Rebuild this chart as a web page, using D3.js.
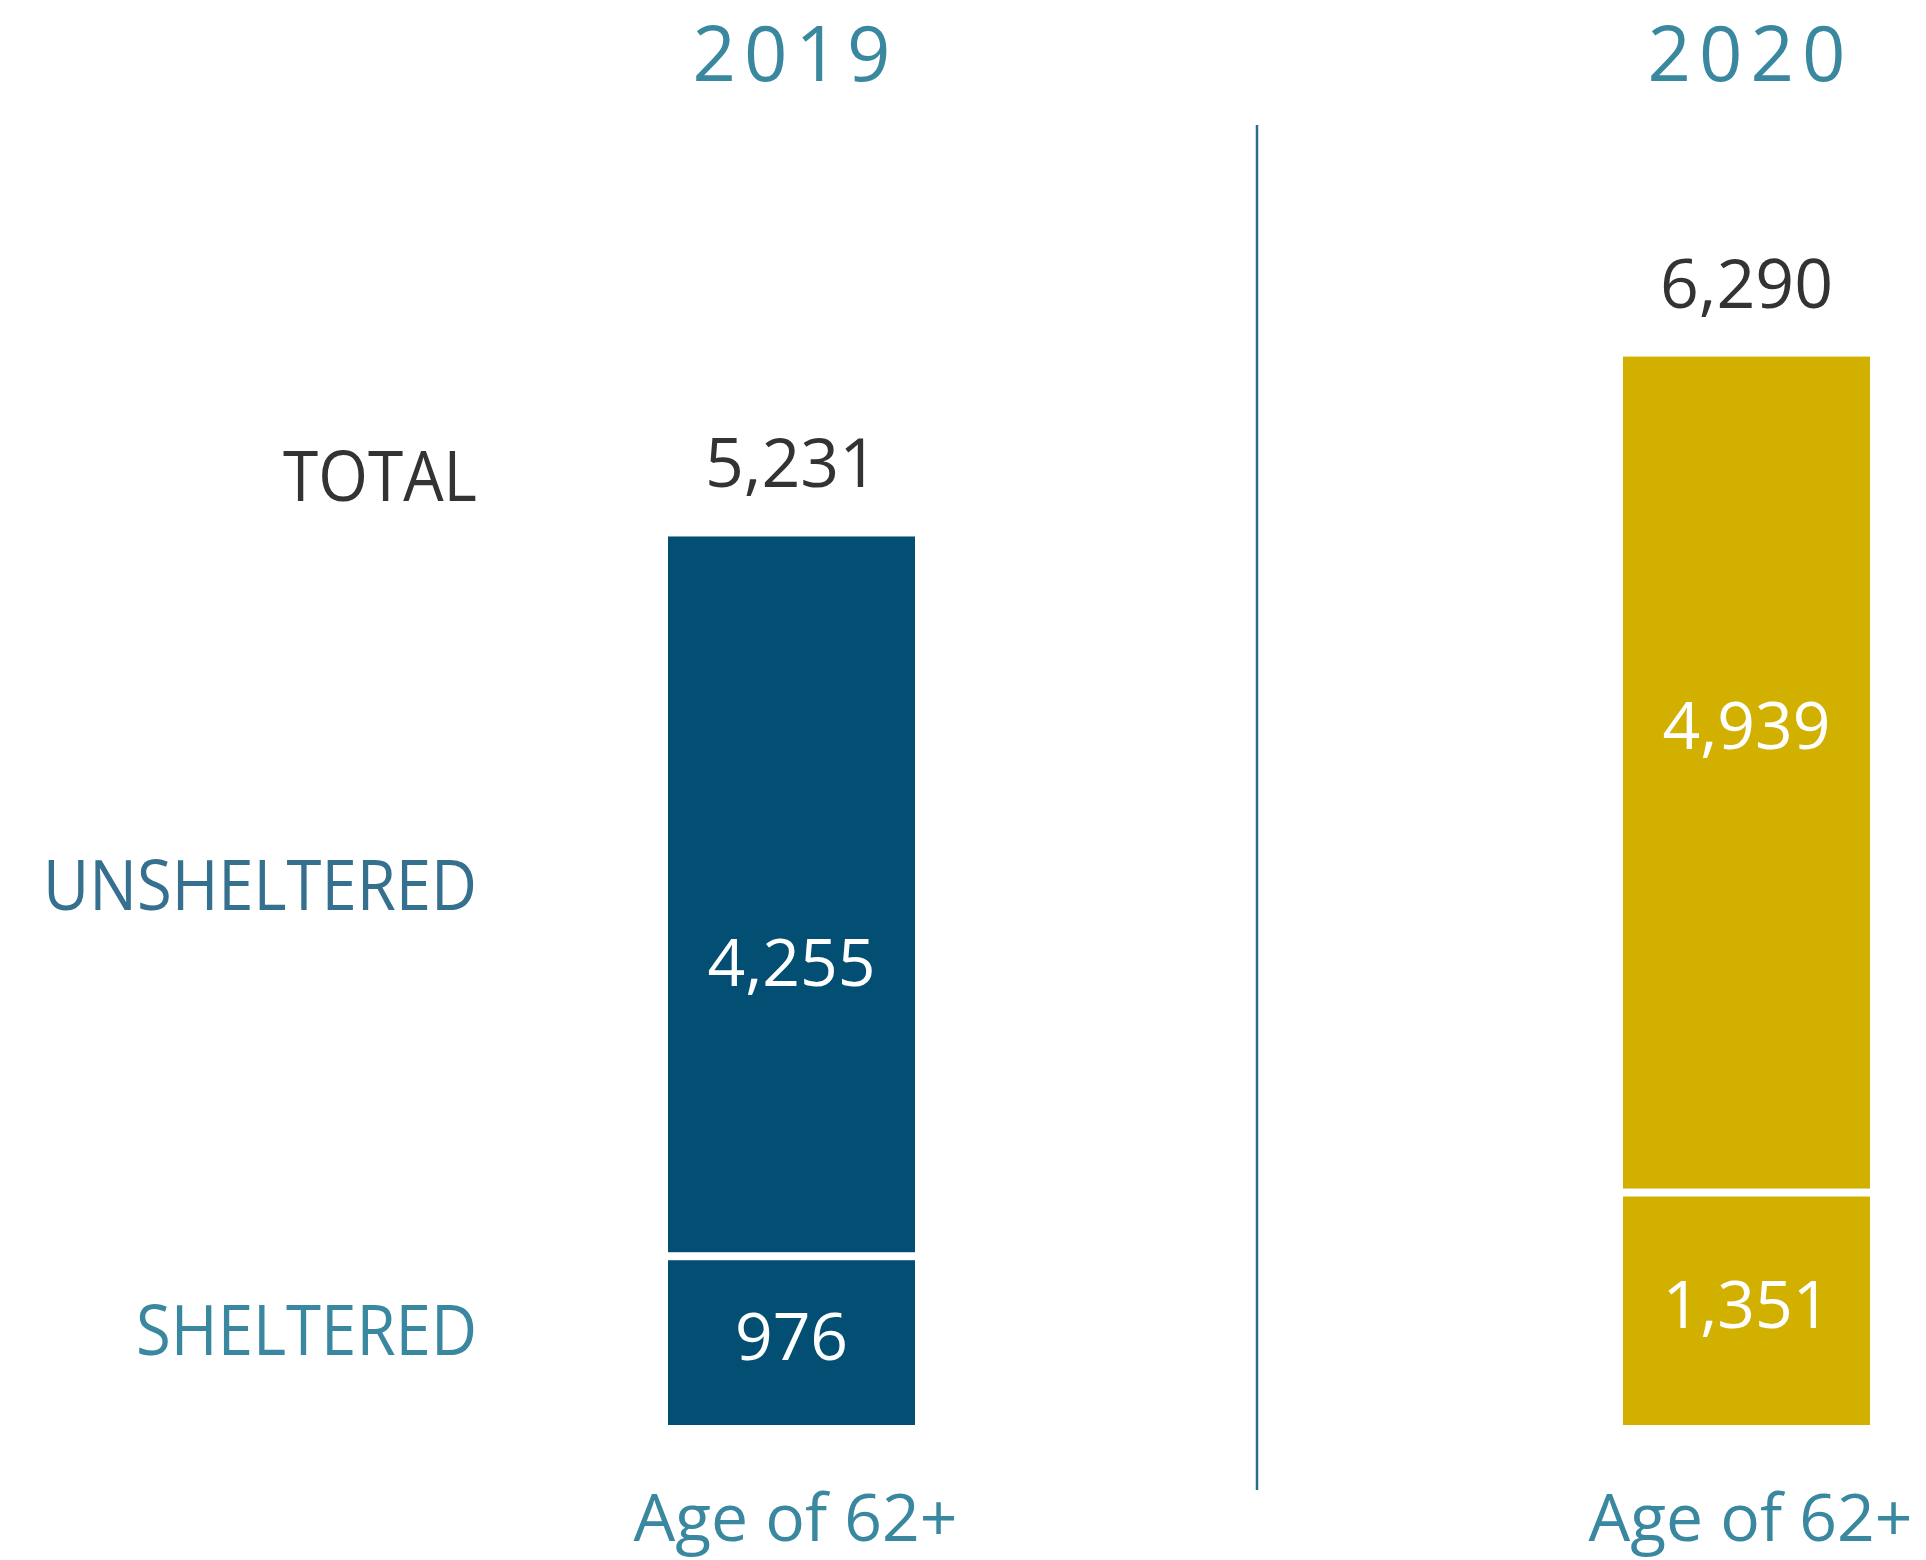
<!DOCTYPE html>
<html>
<head>
<meta charset="utf-8">
<script src="https://cdn.jsdelivr.net/npm/d3@7"></script>
<style>
  html, body { margin: 0; padding: 0; background: #fff; }
  text { font-family: "Open Sans", "Noto Sans", sans-serif; }
</style>
</head>
<body>
<div id="chart"></div>
<script>
// data
var years = ["2019", "2020"];
var sheltered = [976, 1351];
var unsheltered = [4255, 4939];
var totals = [5231, 6290];
var rowLabels = ["TOTAL", "UNSHELTERED", "SHELTERED"];
var barColors = ["#034f73", "#d2b000"];
var subLabel = "Age of 62+";

var width = 1926, height = 1560;

var svg = d3.select("#chart").append("svg")
    .attr("width", width)
    .attr("height", height);

// bar centres and value scale
var x = d3.scalePoint().domain(years).range([791.5, 1746.5]);
var barW = 247;
var y = d3.scaleLinear().domain([0, 7000]).range([1425, 1425 - 1189]);

var fmt = d3.format(",");
var teal = "#3a87a0";

// label placement within the upper segment (fraction from top)
var unLabelFrac = [0.628, 0.472];

var rows = years.map(function(yr, i) {
  return {year: yr, sh: sheltered[i], un: unsheltered[i], total: totals[i],
          color: barColors[i], frac: unLabelFrac[i]};
});

// divider between years
svg.append("line")
    .attr("x1", 1257).attr("x2", 1257)
    .attr("y1", 125).attr("y2", 1490)
    .attr("stroke", "#2e6d8a")
    .attr("stroke-width", 2.5);

var g = svg.selectAll("g.bar")
    .data(rows)
  .enter().append("g")
    .attr("class", "bar");

// sheltered segment
g.append("rect")
    .attr("x", function(d) { return x(d.year) - barW / 2; })
    .attr("width", barW)
    .attr("y", function(d) { return y(d.sh) + 1; })
    .attr("height", function(d) { return y(0) - y(d.sh) - 1; })
    .attr("fill", function(d) { return d.color; });

// unsheltered segment (gap above sheltered)
g.append("rect")
    .attr("x", function(d) { return x(d.year) - barW / 2; })
    .attr("width", barW)
    .attr("y", function(d) { return y(d.sh + d.un); })
    .attr("height", function(d) { return y(d.sh) - 7 - y(d.sh + d.un); })
    .attr("fill", function(d) { return d.color; });

// year headings
g.append("text")
    .attr("x", function(d) { return x(d.year) + 4; })
    .attr("y", 81)
    .attr("text-anchor", "middle")
    .attr("font-size", "76px")
    .attr("letter-spacing", "8px")
    .attr("fill", teal)
    .text(function(d) { return d.year; });

// totals above bars
g.append("text")
    .attr("x", function(d) { return x(d.year); })
    .attr("y", function(d) { return y(d.total) - 49; })
    .attr("text-anchor", "middle")
    .attr("font-size", "68px")
    .attr("fill", "#333333")
    .text(function(d) { return fmt(d.total); });

// unsheltered value
g.append("text")
    .attr("x", function(d) { return x(d.year); })
    .attr("y", function(d) {
      var top = y(d.sh + d.un), bot = y(d.sh) - 7;
      return top + (bot - top) * d.frac;
    })
    .attr("text-anchor", "middle")
    .attr("font-size", "66px")
    .attr("fill", "#ffffff")
    .text(function(d) { return fmt(d.un); });

// sheltered value
g.append("text")
    .attr("x", function(d) { return x(d.year); })
    .attr("y", function(d) { return (y(d.sh) + y(0)) / 2 + 18; })
    .attr("text-anchor", "middle")
    .attr("font-size", "66px")
    .attr("fill", "#ffffff")
    .text(function(d) { return fmt(d.sh); });

// bottom label
g.append("text")
    .attr("x", function(d) { return x(d.year) + 4; })
    .attr("y", 1541)
    .attr("text-anchor", "middle")
    .attr("font-size", "66px")
    .attr("fill", teal)
    .text(subLabel);

// row labels on the left, aligned to the 2019 bar
var first = rows[0];
var rowY = [
  y(first.total) - 35,
  (y(first.total) + y(first.sh)) / 2 + 12,
  (y(first.sh) + y(0)) / 2 + 13
];
var rowColors = ["#333333", "#35708f", teal];
var rowWidths = [194, 434, 341];

svg.selectAll("text.row")
    .data(rowLabels)
  .enter().append("text")
    .attr("class", "row")
    .attr("x", 477)
    .attr("y", function(d, i) { return rowY[i]; })
    .attr("text-anchor", "end")
    .attr("font-size", "70px")
    .attr("textLength", function(d, i) { return rowWidths[i]; })
    .attr("lengthAdjust", "spacingAndGlyphs")
    .attr("fill", function(d, i) { return rowColors[i]; })
    .text(function(d) { return d; });
</script>
</body>
</html>
